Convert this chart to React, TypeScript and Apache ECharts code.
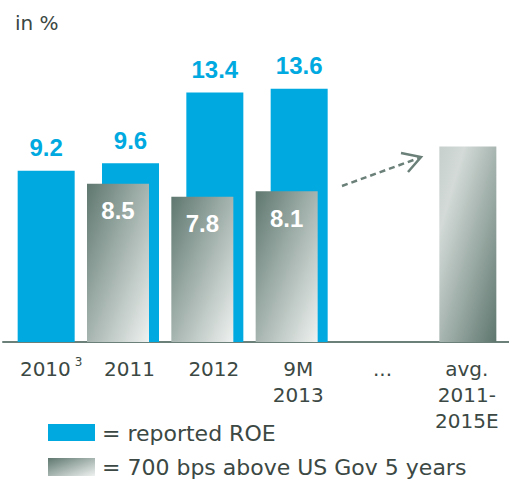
import React, { useEffect, useRef } from "react";
import * as echarts from "echarts";

const categories = ["2010", "2011", "2012", "9M\n2013", "...", "avg.\n2011-\n2015E"];
const reportedROE = [9.2, 9.6, 13.4, 13.6, null, null];
const govPlus700 = [null, 8.5, 7.8, 8.1, null, null];
const avgTarget = [null, null, null, null, null, 10.5];
const spacer = [null, null, null, null, null, null];
const legendLabels = ["= reported ROE", "= 700 bps above US Gov 5 years"];
const unitLabel = "in %";

const BLUE = "#00a9e0";
const TEXT = "#3b4843";
const AXIS = "#6b8079";
const FONT = "'DejaVu Sans', sans-serif";
const BOLD = "'Liberation Sans', Arial, sans-serif";

const grayGrad = () =>
  new echarts.graphic.LinearGradient(0, 0, 1, 1, [
    { offset: 0, color: "#5e776f" },
    { offset: 1, color: "#eff2f0" },
  ]);
const avgGrad = () =>
  new echarts.graphic.LinearGradient(0, 0, 1, 1, [
    { offset: 0, color: "#c6cfcc" },
    { offset: 0.22, color: "#d3dad7" },
    { offset: 1, color: "#5d766d" },
  ]);

export default function App() {
  const ref = useRef<HTMLDivElement>(null);
  useEffect(() => {
    if (!ref.current) return;
    const chart = echarts.init(ref.current, undefined, { renderer: "svg" });
    const gap = "-75.8%";
    chart.setOption({
      animation: false,
      grid: { left: 3, top: 44, width: 510, bottom: 137, containLabel: false },
      xAxis: {
        type: "category",
        data: categories,
        axisLine: { lineStyle: { color: AXIS, width: 2 } },
        axisTick: { length: 6, lineStyle: { color: AXIS, width: 2 } },
        axisLabel: {
          interval: 0,
          margin: 14,
          color: TEXT,
          fontFamily: FONT,
          fontSize: 20,
          lineHeight: 26,
          formatter: (v: string) =>
            v === "2010" ? "{pad|}{a|2010}{sup|3}" : v,
          rich: {
            pad: { width: 12, lineHeight: 26 },
            a: { fontFamily: FONT, fontSize: 20, lineHeight: 26, color: TEXT },
            sup: {
              fontFamily: FONT,
              fontSize: 12,
              lineHeight: 14,
              verticalAlign: "top",
              color: TEXT,
              padding: [0, 0, 0, 4],
            },
          },
        },
      },
      yAxis: { type: "value", min: 0, max: 16, show: false },
      series: [
        {
          name: legendLabels[1],
          type: "bar",
          data: govPlus700,
          barWidth: 62,
          barGap: gap,
          z: 3,
          itemStyle: { color: grayGrad() },
          label: {
            show: true,
            position: "insideTop",
            distance: 15,
            color: "#ffffff",
            fontFamily: BOLD,
            fontWeight: "bold",
            fontSize: 24,
          },
        },
        {
          name: legendLabels[0],
          type: "bar",
          data: reportedROE,
          stack: "b",
          barWidth: 57,
          barGap: gap,
          z: 2,
          itemStyle: { color: BLUE },
          label: {
            show: true,
            position: "top",
            distance: 11,
            color: BLUE,
            fontFamily: BOLD,
            fontWeight: "bold",
            fontSize: 24,
          },
        },
        {
          name: "avg",
          type: "bar",
          data: avgTarget,
          stack: "b",
          barWidth: 57,
          barGap: gap,
          z: 2,
          itemStyle: { color: avgGrad() },
        },
        {
          name: "spacer",
          type: "bar",
          data: spacer,
          stack: "s",
          barWidth: 56.2,
          barGap: gap,
          silent: true,
        },
      ],
      graphic: [
        {
          type: "text",
          left: 15,
          top: 13,
          style: { text: unitLabel, fill: TEXT, font: `20px ${FONT}` },
        },
        {
          type: "polyline",
          shape: { points: [[342, 186], [419, 158]] },
          style: { stroke: AXIS, lineWidth: 2.5, lineDash: [6, 4], fill: null },
        },
        {
          type: "polyline",
          shape: { points: [[401, 153], [421, 157], [408, 172]] },
          style: { stroke: AXIS, lineWidth: 2.5, fill: null },
        },
        {
          type: "rect",
          shape: { x: 48, y: 424, width: 47, height: 17 },
          style: { fill: BLUE },
        },
        {
          type: "text",
          x: 102,
          y: 433,
          style: {
            text: legendLabels[0],
            fill: TEXT,
            font: `22px ${FONT}`,
            textVerticalAlign: "middle",
            verticalAlign: "middle",
          },
        },
        {
          type: "rect",
          shape: { x: 48, y: 458, width: 47, height: 18 },
          style: { fill: grayGrad() },
        },
        {
          type: "text",
          x: 102,
          y: 467,
          style: {
            text: legendLabels[1],
            fill: TEXT,
            font: `22px ${FONT}`,
            textVerticalAlign: "middle",
            verticalAlign: "middle",
          },
        },
      ],
    });
    return () => chart.dispose();
  }, []);
  return (
    <div
      ref={ref}
      style={{ position: "fixed", left: 0, top: 0, width: 509, height: 479, background: "#fff" }}
    />
  );
}
